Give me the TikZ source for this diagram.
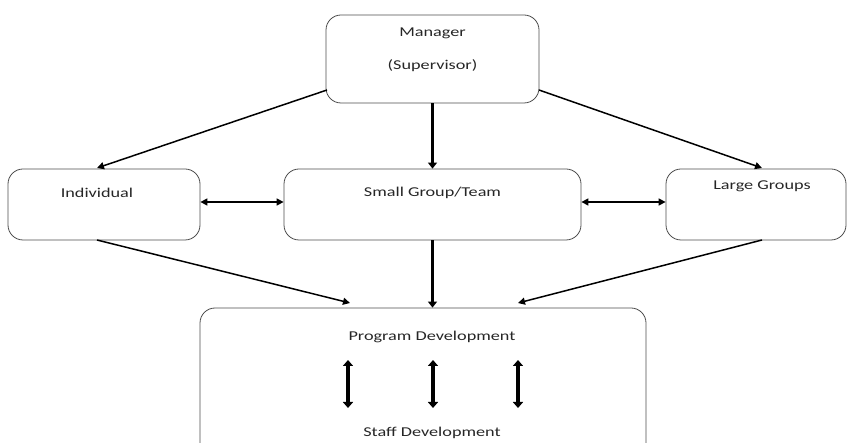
\documentclass[tikz,border=0pt]{standalone}
\usepackage{fontspec}
\setmainfont{Carlito}
\usetikzlibrary{positioning,arrows.meta}

\newcommand{\wide}[1]{\scalebox{1.35}[1]{#1}}

\tikzset{
  box/.style={draw=black!70, line width=0.8pt, rounded corners=15pt, inner sep=0pt},
  lbl/.style={font=\fontsize{13.5}{14}\selectfont, text=black!85, inner sep=0pt},
  thin arrow/.style={line width=1.5pt, -{Triangle[length=7pt,width=7pt]}},
  thick arrow/.style={line width=3.2pt, -{Triangle[length=6pt,width=9pt]}},
  both arrow/.style={line width=1.5pt, {Triangle[length=7pt,width=7pt]}-{Triangle[length=7pt,width=7pt]}},
  dev arrow/.style={line width=3.4pt, {Triangle[length=6pt,width=10pt]}-{Triangle[length=6pt,width=10pt]}}
}

\begin{document}
\begin{tikzpicture}[x=1pt, y=-1pt]
  \useasboundingbox (0,0) rectangle (847,443);
  \clip (0,0) rectangle (847,443);

  % boxes
  \node[box, minimum width=213pt, minimum height=88pt] (mgr) at (432.5,59) {};
  \node[box, minimum width=192pt, minimum height=71pt] (ind) at (104,204.5) {};
  \node[box, minimum width=297pt, minimum height=71pt] (team) at (432.5,204.5) {};
  \node[box, minimum width=180pt, minimum height=71pt] (large) at (756,204.5) {};
  \node[box, minimum width=446pt, minimum height=150pt] (dev) at (423,383) {};

  % texts
  \node[lbl] (mgrtop) at (432.5,33) {\wide{Manager}};
  \node[lbl] (mgrsub) at (432.5,66) {\wide{(Supervisor)}};
  \node[lbl] (indtxt) at (97,193) {\wide{Individual}};
  \node[lbl] (teamtxt) at (432.5,193) {\wide{Small Group/Team}};
  \node[lbl] (largetxt) at (762,186) {\wide{Large Groups}};
  \node[lbl] (progtxt) at (432,337) {\wide{Program Development}};
  \node[lbl] (stafftxt) at (432,433) {\wide{Staff Development}};

  % free ends above the bottom box
  \coordinate (devl) at (350,303);
  \coordinate (devr) at (518,303);
  \coordinate (mgrl) at (327,90);
  \coordinate (mgrr) at (539,90);
  \coordinate (indtop) at (97,168);
  \coordinate (largetop) at (762,168);
  \coordinate (indbot) at (97,240);
  \coordinate (largebot) at (762,240);

  % manager to the three groups
  \draw[thin arrow] (mgrl) -- (indtop);
  \draw[thick arrow] (mgr.south) -- (team.north);
  \draw[thin arrow] (mgrr) -- (largetop);

  % between the groups
  \draw[both arrow] (ind.east |- 0,202) -- (team.west |- 0,202);
  \draw[both arrow] (team.east |- 0,202) -- (large.west |- 0,202);

  % groups to development
  \draw[thin arrow] (indbot) -- (devl);
  \draw[thick arrow] (team.south) -- (team.south |- dev.north);
  \draw[thin arrow] (largebot) -- (devr);

  % program <-> staff
  \foreach \x/\n in {348/a, 433/b, 518/c} {
    \coordinate (up\n) at (\x,360);
    \coordinate (dn\n) at (\x,408);
    \draw[dev arrow] (up\n) -- (dn\n);
  }
\end{tikzpicture}
\end{document}
